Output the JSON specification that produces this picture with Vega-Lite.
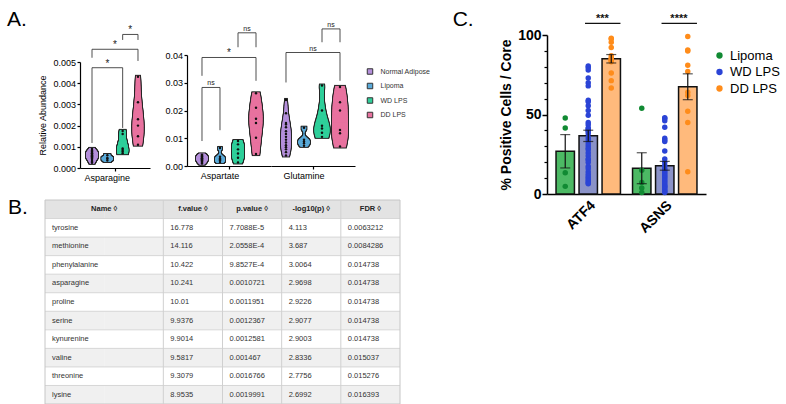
{
"$schema": "https://vega.github.io/schema/vega-lite/v6.json",
"padding": {"left": 7, "top": 8, "right": 2, "bottom": 0},
"config": {
  "view": {"stroke": null},
  "font": "Liberation Sans",
  "axis": {"grid": false, "labelFont": "Liberation Sans", "titleFont": "Liberation Sans", "domainColor": "#000", "tickColor": "#000", "labelColor": "#000", "titleColor": "#000"},
  "legend": {"labelFont": "Liberation Sans"},
  "text": {"font": "Liberation Sans"},
  "title": {"font": "Liberation Sans", "color": "#000"}
},
"datasets": {
  "abund": [
    {"metab":"Asparagine","group":"Normal Adipose","v":0.00025},{"metab":"Asparagine","group":"Normal Adipose","v":0.0003},{"metab":"Asparagine","group":"Normal Adipose","v":0.00038},{"metab":"Asparagine","group":"Normal Adipose","v":0.00045},{"metab":"Asparagine","group":"Normal Adipose","v":0.0005},{"metab":"Asparagine","group":"Normal Adipose","v":0.00052},{"metab":"Asparagine","group":"Normal Adipose","v":0.00056},{"metab":"Asparagine","group":"Normal Adipose","v":0.0006},{"metab":"Asparagine","group":"Normal Adipose","v":0.00062},{"metab":"Asparagine","group":"Normal Adipose","v":0.00066},{"metab":"Asparagine","group":"Normal Adipose","v":0.0007},{"metab":"Asparagine","group":"Normal Adipose","v":0.00072},{"metab":"Asparagine","group":"Normal Adipose","v":0.00078},{"metab":"Asparagine","group":"Normal Adipose","v":0.00083},{"metab":"Asparagine","group":"Normal Adipose","v":0.0009},
    {"metab":"Asparagine","group":"Lipoma","v":0.00035},{"metab":"Asparagine","group":"Lipoma","v":0.00044},{"metab":"Asparagine","group":"Lipoma","v":0.00047},{"metab":"Asparagine","group":"Lipoma","v":0.0006},
    {"metab":"Asparagine","group":"WD LPS","v":0.0007},{"metab":"Asparagine","group":"WD LPS","v":0.00078},{"metab":"Asparagine","group":"WD LPS","v":0.00085},{"metab":"Asparagine","group":"WD LPS","v":0.00092},{"metab":"Asparagine","group":"WD LPS","v":0.0016},{"metab":"Asparagine","group":"WD LPS","v":0.00175},
    {"metab":"Asparagine","group":"DD LPS","v":0.0011},{"metab":"Asparagine","group":"DD LPS","v":0.0015},{"metab":"Asparagine","group":"DD LPS","v":0.002},{"metab":"Asparagine","group":"DD LPS","v":0.0023},{"metab":"Asparagine","group":"DD LPS","v":0.0031},{"metab":"Asparagine","group":"DD LPS","v":0.0043},
    {"metab":"Aspartate","group":"Normal Adipose","v":0.0009},{"metab":"Aspartate","group":"Normal Adipose","v":0.0012},{"metab":"Aspartate","group":"Normal Adipose","v":0.0015},{"metab":"Aspartate","group":"Normal Adipose","v":0.0018},{"metab":"Aspartate","group":"Normal Adipose","v":0.002},{"metab":"Aspartate","group":"Normal Adipose","v":0.0022},{"metab":"Aspartate","group":"Normal Adipose","v":0.0024},{"metab":"Aspartate","group":"Normal Adipose","v":0.0026},{"metab":"Aspartate","group":"Normal Adipose","v":0.0028},{"metab":"Aspartate","group":"Normal Adipose","v":0.003},{"metab":"Aspartate","group":"Normal Adipose","v":0.0032},{"metab":"Aspartate","group":"Normal Adipose","v":0.0034},{"metab":"Aspartate","group":"Normal Adipose","v":0.0036},{"metab":"Aspartate","group":"Normal Adipose","v":0.0038},{"metab":"Aspartate","group":"Normal Adipose","v":0.0041},
    {"metab":"Aspartate","group":"Lipoma","v":0.0014},{"metab":"Aspartate","group":"Lipoma","v":0.002},{"metab":"Aspartate","group":"Lipoma","v":0.0023},{"metab":"Aspartate","group":"Lipoma","v":0.0027},{"metab":"Aspartate","group":"Lipoma","v":0.0033},{"metab":"Aspartate","group":"Lipoma","v":0.0065},
    {"metab":"Aspartate","group":"WD LPS","v":0.0013},{"metab":"Aspartate","group":"WD LPS","v":0.003},{"metab":"Aspartate","group":"WD LPS","v":0.0045},{"metab":"Aspartate","group":"WD LPS","v":0.006},{"metab":"Aspartate","group":"WD LPS","v":0.0078},{"metab":"Aspartate","group":"WD LPS","v":0.009},
    {"metab":"Aspartate","group":"DD LPS","v":0.0043},{"metab":"Aspartate","group":"DD LPS","v":0.0102},{"metab":"Aspartate","group":"DD LPS","v":0.0155},{"metab":"Aspartate","group":"DD LPS","v":0.017},{"metab":"Aspartate","group":"DD LPS","v":0.021},{"metab":"Aspartate","group":"DD LPS","v":0.0262},
    {"metab":"Glutamine","group":"Normal Adipose","v":0.0038},{"metab":"Glutamine","group":"Normal Adipose","v":0.005},{"metab":"Glutamine","group":"Normal Adipose","v":0.006},{"metab":"Glutamine","group":"Normal Adipose","v":0.0068},{"metab":"Glutamine","group":"Normal Adipose","v":0.0075},{"metab":"Glutamine","group":"Normal Adipose","v":0.0085},{"metab":"Glutamine","group":"Normal Adipose","v":0.0095},{"metab":"Glutamine","group":"Normal Adipose","v":0.0105},{"metab":"Glutamine","group":"Normal Adipose","v":0.0115},{"metab":"Glutamine","group":"Normal Adipose","v":0.0125},{"metab":"Glutamine","group":"Normal Adipose","v":0.014},{"metab":"Glutamine","group":"Normal Adipose","v":0.015},{"metab":"Glutamine","group":"Normal Adipose","v":0.0155},{"metab":"Glutamine","group":"Normal Adipose","v":0.019},{"metab":"Glutamine","group":"Normal Adipose","v":0.0238},
    {"metab":"Glutamine","group":"Lipoma","v":0.0073},{"metab":"Glutamine","group":"Lipoma","v":0.0082},{"metab":"Glutamine","group":"Lipoma","v":0.0088},{"metab":"Glutamine","group":"Lipoma","v":0.0095},{"metab":"Glutamine","group":"Lipoma","v":0.0138},
    {"metab":"Glutamine","group":"WD LPS","v":0.0105},{"metab":"Glutamine","group":"WD LPS","v":0.012},{"metab":"Glutamine","group":"WD LPS","v":0.0135},{"metab":"Glutamine","group":"WD LPS","v":0.0145},{"metab":"Glutamine","group":"WD LPS","v":0.02},{"metab":"Glutamine","group":"WD LPS","v":0.029},
    {"metab":"Glutamine","group":"DD LPS","v":0.007},{"metab":"Glutamine","group":"DD LPS","v":0.0118},{"metab":"Glutamine","group":"DD LPS","v":0.013},{"metab":"Glutamine","group":"DD LPS","v":0.02},{"metab":"Glutamine","group":"DD LPS","v":0.023},{"metab":"Glutamine","group":"DD LPS","v":0.0285}
  ],
  "brk": [
    {"metab":"Asparagine","from":"Normal Adipose","to":"WD LPS","mid":"Lipoma","v":0.00473,"lo":0.00118,"ro":0.00189,"label":"*"},
    {"metab":"Asparagine","from":"Normal Adipose","to":"DD LPS","mid":"Lipoma","v":0.0056,"lo":0.0052,"ro":0.00505,"label":"*"},
    {"metab":"Asparagine","from":"WD LPS","to":"DD LPS","mid":"WD LPS","v":0.0063,"lo":0.00604,"ro":0.00604,"label":"*"},
    {"metab":"Aspartate","from":"Normal Adipose","to":"Lipoma","mid":"Normal Adipose","v":0.0283,"lo":0.009,"ro":0.0129,"label":"ns"},
    {"metab":"Aspartate","from":"Normal Adipose","to":"DD LPS","mid":"Lipoma","v":0.0391,"lo":0.0325,"ro":0.0307,"label":"*"},
    {"metab":"Aspartate","from":"WD LPS","to":"DD LPS","mid":"WD LPS","v":0.048,"lo":0.0428,"ro":0.0428,"label":"ns"},
    {"metab":"Glutamine","from":"Normal Adipose","to":"DD LPS","mid":"Lipoma","v":0.0409,"lo":0.0301,"ro":0.0307,"label":"ns"},
    {"metab":"Glutamine","from":"WD LPS","to":"DD LPS","mid":"WD LPS","v":0.0494,"lo":0.0446,"ro":0.0446,"label":"ns"}
  ],
  "ihc": [
    {"gene":"ATF4","cohort":"Lipoma","value":47.8},{"gene":"ATF4","cohort":"Lipoma","value":41.5},{"gene":"ATF4","cohort":"Lipoma","value":13.4},{"gene":"ATF4","cohort":"Lipoma","value":4.8},
    {"gene":"ATF4","cohort":"WD LPS","value":80.5},{"gene":"ATF4","cohort":"WD LPS","value":79.5},{"gene":"ATF4","cohort":"WD LPS","value":78},{"gene":"ATF4","cohort":"WD LPS","value":73},{"gene":"ATF4","cohort":"WD LPS","value":70},{"gene":"ATF4","cohort":"WD LPS","value":68},{"gene":"ATF4","cohort":"WD LPS","value":59},{"gene":"ATF4","cohort":"WD LPS","value":58},{"gene":"ATF4","cohort":"WD LPS","value":55.5},{"gene":"ATF4","cohort":"WD LPS","value":52.5},{"gene":"ATF4","cohort":"WD LPS","value":49.5},{"gene":"ATF4","cohort":"WD LPS","value":45},{"gene":"ATF4","cohort":"WD LPS","value":43.5},{"gene":"ATF4","cohort":"WD LPS","value":41.5},{"gene":"ATF4","cohort":"WD LPS","value":41},{"gene":"ATF4","cohort":"WD LPS","value":40},{"gene":"ATF4","cohort":"WD LPS","value":39.5},{"gene":"ATF4","cohort":"WD LPS","value":38},{"gene":"ATF4","cohort":"WD LPS","value":35.5},{"gene":"ATF4","cohort":"WD LPS","value":34},{"gene":"ATF4","cohort":"WD LPS","value":32},{"gene":"ATF4","cohort":"WD LPS","value":30.5},{"gene":"ATF4","cohort":"WD LPS","value":29},{"gene":"ATF4","cohort":"WD LPS","value":28},{"gene":"ATF4","cohort":"WD LPS","value":26},{"gene":"ATF4","cohort":"WD LPS","value":24},{"gene":"ATF4","cohort":"WD LPS","value":22},{"gene":"ATF4","cohort":"WD LPS","value":21.5},{"gene":"ATF4","cohort":"WD LPS","value":20},{"gene":"ATF4","cohort":"WD LPS","value":17.5},{"gene":"ATF4","cohort":"WD LPS","value":16},{"gene":"ATF4","cohort":"WD LPS","value":14},{"gene":"ATF4","cohort":"WD LPS","value":12.5},{"gene":"ATF4","cohort":"WD LPS","value":11},{"gene":"ATF4","cohort":"WD LPS","value":10},{"gene":"ATF4","cohort":"WD LPS","value":9},{"gene":"ATF4","cohort":"WD LPS","value":8},{"gene":"ATF4","cohort":"WD LPS","value":7},{"gene":"ATF4","cohort":"WD LPS","value":6.5},
    {"gene":"ATF4","cohort":"DD LPS","value":97.9},{"gene":"ATF4","cohort":"DD LPS","value":97.5},{"gene":"ATF4","cohort":"DD LPS","value":95.4},{"gene":"ATF4","cohort":"DD LPS","value":92.2},{"gene":"ATF4","cohort":"DD LPS","value":87},{"gene":"ATF4","cohort":"DD LPS","value":85.5},{"gene":"ATF4","cohort":"DD LPS","value":84.9},{"gene":"ATF4","cohort":"DD LPS","value":84.2},{"gene":"ATF4","cohort":"DD LPS","value":83.8},{"gene":"ATF4","cohort":"DD LPS","value":83.2},{"gene":"ATF4","cohort":"DD LPS","value":76.1},{"gene":"ATF4","cohort":"DD LPS","value":71.3},{"gene":"ATF4","cohort":"DD LPS","value":66.7},
    {"gene":"ASNS","cohort":"Lipoma","value":54},{"gene":"ASNS","cohort":"Lipoma","value":15},{"gene":"ASNS","cohort":"Lipoma","value":7.3},{"gene":"ASNS","cohort":"Lipoma","value":3.8},{"gene":"ASNS","cohort":"Lipoma","value":1},
    {"gene":"ASNS","cohort":"WD LPS","value":48},{"gene":"ASNS","cohort":"WD LPS","value":47.5},{"gene":"ASNS","cohort":"WD LPS","value":46},{"gene":"ASNS","cohort":"WD LPS","value":42},{"gene":"ASNS","cohort":"WD LPS","value":35},{"gene":"ASNS","cohort":"WD LPS","value":34},{"gene":"ASNS","cohort":"WD LPS","value":33},{"gene":"ASNS","cohort":"WD LPS","value":27},{"gene":"ASNS","cohort":"WD LPS","value":22},{"gene":"ASNS","cohort":"WD LPS","value":20},{"gene":"ASNS","cohort":"WD LPS","value":18},{"gene":"ASNS","cohort":"WD LPS","value":16},{"gene":"ASNS","cohort":"WD LPS","value":15},{"gene":"ASNS","cohort":"WD LPS","value":14},{"gene":"ASNS","cohort":"WD LPS","value":13},{"gene":"ASNS","cohort":"WD LPS","value":12},{"gene":"ASNS","cohort":"WD LPS","value":11},{"gene":"ASNS","cohort":"WD LPS","value":10},{"gene":"ASNS","cohort":"WD LPS","value":9},{"gene":"ASNS","cohort":"WD LPS","value":8},{"gene":"ASNS","cohort":"WD LPS","value":7},{"gene":"ASNS","cohort":"WD LPS","value":6},{"gene":"ASNS","cohort":"WD LPS","value":5},{"gene":"ASNS","cohort":"WD LPS","value":4.5},{"gene":"ASNS","cohort":"WD LPS","value":4},{"gene":"ASNS","cohort":"WD LPS","value":3},{"gene":"ASNS","cohort":"WD LPS","value":2},{"gene":"ASNS","cohort":"WD LPS","value":1.5},{"gene":"ASNS","cohort":"WD LPS","value":1},
    {"gene":"ASNS","cohort":"DD LPS","value":99},{"gene":"ASNS","cohort":"DD LPS","value":90.5},{"gene":"ASNS","cohort":"DD LPS","value":90},{"gene":"ASNS","cohort":"DD LPS","value":81},{"gene":"ASNS","cohort":"DD LPS","value":77},{"gene":"ASNS","cohort":"DD LPS","value":64},{"gene":"ASNS","cohort":"DD LPS","value":62},{"gene":"ASNS","cohort":"DD LPS","value":52},{"gene":"ASNS","cohort":"DD LPS","value":45},{"gene":"ASNS","cohort":"DD LPS","value":14}
  ],
  "sig": [
    {"gene":"ATF4","level":107.3,"label":"***"},
    {"gene":"ASNS","level":107.3,"label":"****"}
  ],
  "tbl": [
    {"row":0,"Name":"Name ◊","fvalue":"f.value ◊","pvalue":"p.value ◊","log10p":"-log10(p) ◊","FDR":"FDR ◊"},
    {"row":1,"Name":"tyrosine","fvalue":"16.778","pvalue":"7.7088E-5","log10p":"4.113","FDR":"0.0063212"},
    {"row":2,"Name":"methionine","fvalue":"14.116","pvalue":"2.0558E-4","log10p":"3.687","FDR":"0.0084286"},
    {"row":3,"Name":"phenylalanine","fvalue":"10.422","pvalue":"9.8527E-4","log10p":"3.0064","FDR":"0.014738"},
    {"row":4,"Name":"asparagine","fvalue":"10.241","pvalue":"0.0010721","log10p":"2.9698","FDR":"0.014738"},
    {"row":5,"Name":"proline","fvalue":"10.01","pvalue":"0.0011951","log10p":"2.9226","FDR":"0.014738"},
    {"row":6,"Name":"serine","fvalue":"9.9376","pvalue":"0.0012367","log10p":"2.9077","FDR":"0.014738"},
    {"row":7,"Name":"kynurenine","fvalue":"9.9014","pvalue":"0.0012581","log10p":"2.9003","FDR":"0.014738"},
    {"row":8,"Name":"valine","fvalue":"9.5817","pvalue":"0.001467","log10p":"2.8336","FDR":"0.015037"},
    {"row":9,"Name":"threonine","fvalue":"9.3079","pvalue":"0.0016766","log10p":"2.7756","FDR":"0.015276"},
    {"row":10,"Name":"lysine","fvalue":"8.9535","pvalue":"0.0019991","log10p":"2.6992","FDR":"0.016393"}
  ]
},
"bounds": "flush",
"align": "each",
"columns": 4,
"spacing": {"row": 6, "column": 0},
"resolve": {"scale": {"color": "independent", "fill": "independent", "size": "independent"}},
"concat": [
    {
      "width": 142, "height": 133,
      "title": {"text": "A.", "anchor": "start", "frame": "group", "dx": -38, "dy": 21.5, "offset": 0, "baseline": "alphabetic", "fontSize": 21, "fontWeight": "normal"},
      "encoding": {
        "x": {"field": "group", "type": "nominal", "title": null, "scale": {"domain": ["Normal Adipose","Lipoma","WD LPS","DD LPS"], "range": [35, 105], "paddingInner": 0, "paddingOuter": 0.284}, "axis": {"values": ["Lipoma"], "bandPosition": 1, "labelExpr": "'Asparagine'", "labelAngle": 0, "tickSize": 3, "tickWidth": 1.2, "domainWidth": 1.2, "labelFontSize": 9, "labelPadding": 2}},
        "y": {"field": "v", "type": "quantitative", "title": "Relative Abundance", "scale": {"domain": [0, 0.005], "range": [133, 27], "nice": false}, "axis": {"values": [0, 0.001, 0.002, 0.003, 0.004, 0.005], "format": ".3f", "offset": -35, "tickSize": 3, "tickWidth": 1.2, "domainWidth": 1.2, "labelFontSize": 9, "labelPadding": 1.5, "titleFontSize": 9, "titleFontWeight": "normal", "titlePadding": 5}}
      },
      "resolve": {"scale": {"size": "independent"}},
      "layer": [
        {"data": {"name": "abund"}, "transform": [{"filter": "datum.metab === 'Asparagine' && datum.group === 'Normal Adipose'"}, {"density": "v", "groupby": ["group"], "steps": 80, "as": ["v", "density"]}],
         "encoding": {"size": {"field": "density", "type": "quantitative", "scale": {"zero": true, "range": [0, 12]}, "legend": null}},
         "layer": [{"mark": {"type": "tick", "thickness": 2, "color": "#262626", "stroke": "#262626", "strokeWidth": 2, "opacity": 1}},
                   {"mark": {"type": "tick", "thickness": 2, "opacity": 1}, "encoding": {"color": {"field": "group", "type": "nominal", "scale": {"domain": ["Normal Adipose","Lipoma","WD LPS","DD LPS"], "range": ["#b48fdb","#5aaad9","#2fcf9a","#e8729f"]}, "legend": null}}}]},
        {"data": {"name": "abund"}, "transform": [{"filter": "datum.metab === 'Asparagine' && datum.group === 'Lipoma'"}, {"density": "v", "groupby": ["group"], "steps": 80, "as": ["v", "density"]}],
         "encoding": {"size": {"field": "density", "type": "quantitative", "scale": {"zero": true, "range": [0, 11]}, "legend": null}},
         "layer": [{"mark": {"type": "tick", "thickness": 2, "color": "#262626", "stroke": "#262626", "strokeWidth": 2, "opacity": 1}},
                   {"mark": {"type": "tick", "thickness": 2, "opacity": 1}, "encoding": {"color": {"field": "group", "type": "nominal", "scale": {"domain": ["Normal Adipose","Lipoma","WD LPS","DD LPS"], "range": ["#b48fdb","#5aaad9","#2fcf9a","#e8729f"]}, "legend": null}}}]},
        {"data": {"name": "abund"}, "transform": [{"filter": "datum.metab === 'Asparagine' && datum.group === 'WD LPS'"}, {"density": "v", "groupby": ["group"], "steps": 80, "as": ["v", "density"]}],
         "encoding": {"size": {"field": "density", "type": "quantitative", "scale": {"zero": true, "range": [0, 11]}, "legend": null}},
         "layer": [{"mark": {"type": "tick", "thickness": 2, "color": "#262626", "stroke": "#262626", "strokeWidth": 2, "opacity": 1}},
                   {"mark": {"type": "tick", "thickness": 2, "opacity": 1}, "encoding": {"color": {"field": "group", "type": "nominal", "scale": {"domain": ["Normal Adipose","Lipoma","WD LPS","DD LPS"], "range": ["#b48fdb","#5aaad9","#2fcf9a","#e8729f"]}, "legend": null}}}]},
        {"data": {"name": "abund"}, "transform": [{"filter": "datum.metab === 'Asparagine' && datum.group === 'DD LPS'"}, {"density": "v", "groupby": ["group"], "steps": 80, "as": ["v", "density"]}],
         "encoding": {"size": {"field": "density", "type": "quantitative", "scale": {"zero": true, "range": [0, 11]}, "legend": null}},
         "layer": [{"mark": {"type": "tick", "thickness": 2, "color": "#262626", "stroke": "#262626", "strokeWidth": 2, "opacity": 1}},
                   {"mark": {"type": "tick", "thickness": 2, "opacity": 1}, "encoding": {"color": {"field": "group", "type": "nominal", "scale": {"domain": ["Normal Adipose","Lipoma","WD LPS","DD LPS"], "range": ["#b48fdb","#5aaad9","#2fcf9a","#e8729f"]}, "legend": null}}}]},
        {"data": {"name": "abund"}, "transform": [{"filter": "datum.metab === 'Asparagine'"}], "mark": {"type": "circle", "size": 6, "color": "#111", "opacity": 1}},
        {"data": {"name": "brk"}, "transform": [{"filter": "datum.metab === 'Asparagine'"}], "mark": {"type": "rule", "color": "#3a3a3a", "strokeWidth": 0.9},
         "encoding": {"x": {"field": "from", "type": "nominal", "title": null, "bandPosition": 0.5}, "x2": {"field": "to", "bandPosition": 0.5}}},
        {"data": {"name": "brk"}, "transform": [{"filter": "datum.metab === 'Asparagine'"}], "mark": {"type": "rule", "color": "#3a3a3a", "strokeWidth": 0.9},
         "encoding": {"x": {"field": "from", "type": "nominal", "title": null, "bandPosition": 0.5}, "y2": {"field": "lo"}}},
        {"data": {"name": "brk"}, "transform": [{"filter": "datum.metab === 'Asparagine'"}], "mark": {"type": "rule", "color": "#3a3a3a", "strokeWidth": 0.9},
         "encoding": {"x": {"field": "to", "type": "nominal", "title": null, "bandPosition": 0.5}, "y2": {"field": "ro"}}},
        {"data": {"name": "brk"}, "transform": [{"filter": "datum.metab === 'Asparagine' && (indexof(['Normal Adipose','Lipoma','WD LPS','DD LPS'], datum.to) - indexof(['Normal Adipose','Lipoma','WD LPS','DD LPS'], datum.from)) % 2 === 0"}],
         "mark": {"type": "text", "baseline": "middle", "dy": -4, "color": "#222"},
         "encoding": {"x": {"field": "mid", "type": "nominal", "title": null, "bandPosition": 0.5}, "text": {"field": "label"}, "size": {"condition": {"test": "datum.label === 'ns'", "value": 7}, "value": 10}}},
        {"data": {"name": "brk"}, "transform": [{"filter": "datum.metab === 'Asparagine' && (indexof(['Normal Adipose','Lipoma','WD LPS','DD LPS'], datum.to) - indexof(['Normal Adipose','Lipoma','WD LPS','DD LPS'], datum.from)) % 2 !== 0"}],
         "mark": {"type": "text", "baseline": "middle", "dy": -4, "color": "#222"},
         "encoding": {"x": {"field": "mid", "type": "nominal", "title": null, "bandPosition": 1}, "text": {"field": "label"}, "size": {"condition": {"test": "datum.label === 'ns'", "value": 7}, "value": 10}}}
      ]
    },
    {
        "width": 84, "height": 131,
        "encoding": {
          "x": {"field": "group", "type": "nominal", "title": null, "scale": {"domain": ["Normal Adipose","Lipoma","WD LPS","DD LPS"], "paddingInner": 0, "paddingOuter": 0.333}, "axis": {"values": ["Lipoma"], "bandPosition": 1, "labelExpr": "'Aspartate'", "labelAngle": 0, "tickSize": 3, "tickWidth": 1.2, "domainWidth": 1.2, "labelFontSize": 9, "labelPadding": 2}},
          "y": {"field": "v", "type": "quantitative", "title": null, "scale": {"domain": [0, 0.04], "range": [131, 20], "nice": false}, "axis": {"values": [0, 0.01, 0.02, 0.03, 0.04], "format": ".2f", "tickSize": 3, "tickWidth": 1.2, "domainWidth": 1.2, "labelFontSize": 9, "labelPadding": 1.5}}
        },
        "resolve": {"scale": {"size": "independent"}},
        "layer": [
          {"data": {"name": "abund"}, "transform": [{"filter": "datum.metab === 'Aspartate' && datum.group === 'Normal Adipose'"}, {"density": "v", "groupby": ["group"], "steps": 80, "as": ["v", "density"]}],
           "encoding": {"size": {"field": "density", "type": "quantitative", "scale": {"zero": true, "range": [0, 11]}, "legend": null}},
           "layer": [{"mark": {"type": "tick", "thickness": 2, "color": "#262626", "stroke": "#262626", "strokeWidth": 2, "opacity": 1}},
                     {"mark": {"type": "tick", "thickness": 2, "opacity": 1}, "encoding": {"color": {"field": "group", "type": "nominal", "scale": {"domain": ["Normal Adipose","Lipoma","WD LPS","DD LPS"], "range": ["#b48fdb","#5aaad9","#2fcf9a","#e8729f"]}, "legend": null}}}]},
          {"data": {"name": "abund"}, "transform": [{"filter": "datum.metab === 'Aspartate' && datum.group === 'Lipoma'"}, {"density": "v", "groupby": ["group"], "steps": 80, "as": ["v", "density"]}],
           "encoding": {"size": {"field": "density", "type": "quantitative", "scale": {"zero": true, "range": [0, 10]}, "legend": null}},
           "layer": [{"mark": {"type": "tick", "thickness": 2, "color": "#262626", "stroke": "#262626", "strokeWidth": 2, "opacity": 1}},
                     {"mark": {"type": "tick", "thickness": 2, "opacity": 1}, "encoding": {"color": {"field": "group", "type": "nominal", "scale": {"domain": ["Normal Adipose","Lipoma","WD LPS","DD LPS"], "range": ["#b48fdb","#5aaad9","#2fcf9a","#e8729f"]}, "legend": null}}}]},
          {"data": {"name": "abund"}, "transform": [{"filter": "datum.metab === 'Aspartate' && datum.group === 'WD LPS'"}, {"density": "v", "groupby": ["group"], "steps": 80, "as": ["v", "density"]}],
           "encoding": {"size": {"field": "density", "type": "quantitative", "scale": {"zero": true, "range": [0, 12]}, "legend": null}},
           "layer": [{"mark": {"type": "tick", "thickness": 2, "color": "#262626", "stroke": "#262626", "strokeWidth": 2, "opacity": 1}},
                     {"mark": {"type": "tick", "thickness": 2, "opacity": 1}, "encoding": {"color": {"field": "group", "type": "nominal", "scale": {"domain": ["Normal Adipose","Lipoma","WD LPS","DD LPS"], "range": ["#b48fdb","#5aaad9","#2fcf9a","#e8729f"]}, "legend": null}}}]},
          {"data": {"name": "abund"}, "transform": [{"filter": "datum.metab === 'Aspartate' && datum.group === 'DD LPS'"}, {"density": "v", "groupby": ["group"], "steps": 80, "as": ["v", "density"]}],
           "encoding": {"size": {"field": "density", "type": "quantitative", "scale": {"zero": true, "range": [0, 13]}, "legend": null}},
           "layer": [{"mark": {"type": "tick", "thickness": 2, "color": "#262626", "stroke": "#262626", "strokeWidth": 2, "opacity": 1}},
                     {"mark": {"type": "tick", "thickness": 2, "opacity": 1}, "encoding": {"color": {"field": "group", "type": "nominal", "scale": {"domain": ["Normal Adipose","Lipoma","WD LPS","DD LPS"], "range": ["#b48fdb","#5aaad9","#2fcf9a","#e8729f"]}, "legend": null}}}]},
          {"data": {"name": "abund"}, "transform": [{"filter": "datum.metab === 'Aspartate'"}], "mark": {"type": "circle", "size": 6, "color": "#111", "opacity": 1}},
          {"data": {"name": "brk"}, "transform": [{"filter": "datum.metab === 'Aspartate'"}], "mark": {"type": "rule", "color": "#3a3a3a", "strokeWidth": 0.9},
           "encoding": {"x": {"field": "from", "type": "nominal", "title": null, "bandPosition": 0.5}, "x2": {"field": "to", "bandPosition": 0.5}}},
          {"data": {"name": "brk"}, "transform": [{"filter": "datum.metab === 'Aspartate'"}], "mark": {"type": "rule", "color": "#3a3a3a", "strokeWidth": 0.9},
           "encoding": {"x": {"field": "from", "type": "nominal", "title": null, "bandPosition": 0.5}, "y2": {"field": "lo"}}},
          {"data": {"name": "brk"}, "transform": [{"filter": "datum.metab === 'Aspartate'"}], "mark": {"type": "rule", "color": "#3a3a3a", "strokeWidth": 0.9},
           "encoding": {"x": {"field": "to", "type": "nominal", "title": null, "bandPosition": 0.5}, "y2": {"field": "ro"}}},
          {"data": {"name": "brk"}, "transform": [{"filter": "datum.metab === 'Aspartate' && (indexof(['Normal Adipose','Lipoma','WD LPS','DD LPS'], datum.to) - indexof(['Normal Adipose','Lipoma','WD LPS','DD LPS'], datum.from)) % 2 !== 0"}],
           "mark": {"type": "text", "baseline": "middle", "dy": -4, "color": "#222"},
           "encoding": {"x": {"field": "mid", "type": "nominal", "title": null, "bandPosition": 1}, "text": {"field": "label"}, "size": {"condition": {"test": "datum.label === 'ns'", "value": 7}, "value": 10}}}
        ]
    },
    {
        "width": 276, "height": 131,
        "encoding": {
          "x": {"field": "group", "type": "nominal", "title": null, "scale": {"domain": ["Normal Adipose","Lipoma","WD LPS","DD LPS"], "range": [0, 84], "paddingInner": 0, "paddingOuter": 0.333}, "axis": {"values": ["Lipoma"], "bandPosition": 1, "labelExpr": "'Glutamine'", "labelAngle": 0, "tickSize": 3, "tickWidth": 1.2, "domainWidth": 1.2, "labelFontSize": 9, "labelPadding": 2}},
          "y": {"field": "v", "type": "quantitative", "title": null, "scale": {"domain": [0, 0.04], "range": [131, 20], "nice": false}, "axis": null}
        },
        "resolve": {"scale": {"size": "independent"}},
        "layer": [
          {"data": {"name": "abund"}, "transform": [{"filter": "datum.metab === 'Glutamine' && datum.group === 'Normal Adipose'"}, {"density": "v", "groupby": ["group"], "steps": 80, "as": ["v", "density"]}],
           "encoding": {"size": {"field": "density", "type": "quantitative", "scale": {"zero": true, "range": [0, 10]}, "legend": null}},
           "layer": [{"mark": {"type": "tick", "thickness": 2, "color": "#262626", "stroke": "#262626", "strokeWidth": 2, "opacity": 1}},
                     {"mark": {"type": "tick", "thickness": 2, "opacity": 1}, "encoding": {"color": {"field": "group", "type": "nominal", "scale": {"domain": ["Normal Adipose","Lipoma","WD LPS","DD LPS"], "range": ["#b48fdb","#5aaad9","#2fcf9a","#e8729f"]}, "legend": {"orient": "none", "legendX": 95.5, "legendY": 33, "title": null, "symbolType": "square", "symbolSize": 30, "symbolStrokeColor": "#333", "symbolStrokeWidth": 1, "symbolOpacity": 1, "labelFontSize": 7, "labelColor": "#333", "labelOffset": 7, "rowPadding": 3.5}}}}]},
          {"data": {"name": "abund"}, "transform": [{"filter": "datum.metab === 'Glutamine' && datum.group === 'Lipoma'"}, {"density": "v", "groupby": ["group"], "steps": 80, "as": ["v", "density"]}],
           "encoding": {"size": {"field": "density", "type": "quantitative", "scale": {"zero": true, "range": [0, 11]}, "legend": null}},
           "layer": [{"mark": {"type": "tick", "thickness": 2, "color": "#262626", "stroke": "#262626", "strokeWidth": 2, "opacity": 1}},
                     {"mark": {"type": "tick", "thickness": 2, "opacity": 1}, "encoding": {"color": {"field": "group", "type": "nominal", "scale": {"domain": ["Normal Adipose","Lipoma","WD LPS","DD LPS"], "range": ["#b48fdb","#5aaad9","#2fcf9a","#e8729f"]}, "legend": {"orient": "none", "legendX": 95.5, "legendY": 33, "title": null, "symbolType": "square", "symbolSize": 30, "symbolStrokeColor": "#333", "symbolStrokeWidth": 1, "symbolOpacity": 1, "labelFontSize": 7, "labelColor": "#333", "labelOffset": 7, "rowPadding": 3.5}}}}]},
          {"data": {"name": "abund"}, "transform": [{"filter": "datum.metab === 'Glutamine' && datum.group === 'WD LPS'"}, {"density": "v", "groupby": ["group"], "steps": 80, "as": ["v", "density"]}],
           "encoding": {"size": {"field": "density", "type": "quantitative", "scale": {"zero": true, "range": [0, 15]}, "legend": null}},
           "layer": [{"mark": {"type": "tick", "thickness": 2, "color": "#262626", "stroke": "#262626", "strokeWidth": 2, "opacity": 1}},
                     {"mark": {"type": "tick", "thickness": 2, "opacity": 1}, "encoding": {"color": {"field": "group", "type": "nominal", "scale": {"domain": ["Normal Adipose","Lipoma","WD LPS","DD LPS"], "range": ["#b48fdb","#5aaad9","#2fcf9a","#e8729f"]}, "legend": {"orient": "none", "legendX": 95.5, "legendY": 33, "title": null, "symbolType": "square", "symbolSize": 30, "symbolStrokeColor": "#333", "symbolStrokeWidth": 1, "symbolOpacity": 1, "labelFontSize": 7, "labelColor": "#333", "labelOffset": 7, "rowPadding": 3.5}}}}]},
          {"data": {"name": "abund"}, "transform": [{"filter": "datum.metab === 'Glutamine' && datum.group === 'DD LPS'"}, {"density": "v", "groupby": ["group"], "steps": 80, "as": ["v", "density"]}],
           "encoding": {"size": {"field": "density", "type": "quantitative", "scale": {"zero": true, "range": [0, 16]}, "legend": null}},
           "layer": [{"mark": {"type": "tick", "thickness": 2, "color": "#262626", "stroke": "#262626", "strokeWidth": 2, "opacity": 1}},
                     {"mark": {"type": "tick", "thickness": 2, "opacity": 1}, "encoding": {"color": {"field": "group", "type": "nominal", "scale": {"domain": ["Normal Adipose","Lipoma","WD LPS","DD LPS"], "range": ["#b48fdb","#5aaad9","#2fcf9a","#e8729f"]}, "legend": {"orient": "none", "legendX": 95.5, "legendY": 33, "title": null, "symbolType": "square", "symbolSize": 30, "symbolStrokeColor": "#333", "symbolStrokeWidth": 1, "symbolOpacity": 1, "labelFontSize": 7, "labelColor": "#333", "labelOffset": 7, "rowPadding": 3.5}}}}]},
          {"data": {"name": "abund"}, "transform": [{"filter": "datum.metab === 'Glutamine'"}], "mark": {"type": "circle", "size": 6, "color": "#111", "opacity": 1}},
          {"data": {"name": "brk"}, "transform": [{"filter": "datum.metab === 'Glutamine'"}], "mark": {"type": "rule", "color": "#3a3a3a", "strokeWidth": 0.9},
           "encoding": {"x": {"field": "from", "type": "nominal", "title": null, "bandPosition": 0.5}, "x2": {"field": "to", "bandPosition": 0.5}}},
          {"data": {"name": "brk"}, "transform": [{"filter": "datum.metab === 'Glutamine'"}], "mark": {"type": "rule", "color": "#3a3a3a", "strokeWidth": 0.9},
           "encoding": {"x": {"field": "from", "type": "nominal", "title": null, "bandPosition": 0.5}, "y2": {"field": "lo"}}},
          {"data": {"name": "brk"}, "transform": [{"filter": "datum.metab === 'Glutamine'"}], "mark": {"type": "rule", "color": "#3a3a3a", "strokeWidth": 0.9},
           "encoding": {"x": {"field": "to", "type": "nominal", "title": null, "bandPosition": 0.5}, "y2": {"field": "ro"}}},
          {"data": {"name": "brk"}, "transform": [{"filter": "datum.metab === 'Glutamine' && (indexof(['Normal Adipose','Lipoma','WD LPS','DD LPS'], datum.to) - indexof(['Normal Adipose','Lipoma','WD LPS','DD LPS'], datum.from)) % 2 !== 0"}],
           "mark": {"type": "text", "baseline": "middle", "dy": -4, "color": "#222"},
           "encoding": {"x": {"field": "mid", "type": "nominal", "title": null, "bandPosition": 1}, "text": {"field": "label"}, "size": {"condition": {"test": "datum.label === 'ns'", "value": 7}, "value": 10}}}
        ]
    },
  {
    "width": 159, "height": 159,
    "title": {"text": "C.", "anchor": "start", "frame": "group", "dx": -94.3, "dy": 33.7, "offset": 0, "baseline": "alphabetic", "fontSize": 21, "fontWeight": "normal"},
    "resolve": {"axis": {"y": "independent"}},
    "layer": [
      {"data": {"name": "ihc"}, "mark": {"type": "bar", "stroke": "#111", "strokeWidth": 1.5},
       "encoding": {
         "x": {"field": "gene", "type": "nominal", "title": null, "scale": {"domain": ["ATF4","ASNS"], "paddingInner": 0.158, "paddingOuter": 0.118}, "axis": {"labelAngle": -45, "labelFontSize": 14, "labelFontWeight": "bold", "ticks": false, "domainWidth": 1.5, "labelPadding": 4}},
         "xOffset": {"field": "cohort", "type": "nominal", "scale": {"domain": ["Lipoma","WD LPS","DD LPS"], "paddingInner": 0.2, "paddingOuter": 0}},
         "y": {"aggregate": "mean", "field": "value", "type": "quantitative", "title": "% Positive Cells / Core", "scale": {"domain": [0, 100], "nice": false}, "axis": {"values": [0, 50, 100], "labelFontSize": 14, "labelFontWeight": "bold", "titleFontSize": 14, "titleFontWeight": "bold", "tickSize": 5, "tickWidth": 1.5, "domainWidth": 1.5, "labelPadding": 1, "titlePadding": 4}},
         "fill": {"field": "cohort", "type": "nominal", "scale": {"domain": ["DD LPS","Lipoma","WD LPS"], "range": ["#ffba7c","#4cb964","#8a92c8"]}, "legend": null}
       }},
      {"data": {"name": "ihc"}, "mark": {"type": "circle", "size": 30, "opacity": 1},
       "encoding": {
         "x": {"field": "gene", "type": "nominal", "title": null},
         "xOffset": {"field": "cohort", "type": "nominal"},
         "y": {"field": "value", "type": "quantitative", "axis": {"orient": "left", "values": [10, 20, 30, 40, 60, 70, 80, 90], "labels": false, "domain": false, "title": null, "tickSize": 3, "tickWidth": 1.2}},
         "color": {"field": "cohort", "type": "nominal", "scale": {"domain": ["Lipoma","WD LPS","DD LPS"], "range": ["#118a33","#2b44d6","#ff8c1a"]}, "legend": {"orient": "none", "legendX": 166, "legendY": 14, "title": null, "symbolType": "circle", "symbolSize": 40, "symbolOpacity": 1, "labelFontSize": 13, "labelColor": "#000", "labelOffset": 4, "rowPadding": 2.5}}
       }},
      {"data": {"name": "ihc"}, "mark": {"type": "errorbar", "extent": "stderr", "color": "#111", "thickness": 1.2, "ticks": {"size": 10, "thickness": 1.2, "color": "#111"}},
       "encoding": {
         "x": {"field": "gene", "type": "nominal", "title": null},
         "xOffset": {"field": "cohort", "type": "nominal"},
         "y": {"field": "value", "type": "quantitative", "axis": null}
       }},
      {"data": {"name": "sig"}, "mark": {"type": "rule", "color": "#111", "strokeWidth": 1.2},
       "encoding": {
         "x": {"field": "gene", "type": "nominal", "title": null, "bandPosition": 0.45},
         "x2": {"field": "gene", "bandPosition": 1},
         "y": {"field": "level", "type": "quantitative", "axis": null}
       }},
      {"data": {"name": "sig"}, "mark": {"type": "text", "fontSize": 11, "fontWeight": "bold", "baseline": "alphabetic", "dy": -1, "color": "#111"},
       "encoding": {
         "x": {"field": "gene", "type": "nominal", "title": null, "bandPosition": 0.72},
         "y": {"field": "level", "type": "quantitative", "axis": null},
         "text": {"field": "label"}
       }}
    ]
  },
  {
  "width": 142, "height": 204,
  "title": {"text": "B.", "anchor": "start", "frame": "group", "dx": -37, "dy": 35, "offset": 0, "baseline": "alphabetic", "fontSize": 21, "fontWeight": "normal"},
  "layer": [
    {"data": {"name": "tbl"}, "transform": [{"fold": ["Name", "Name2", "fvalue", "pvalue", "log10p", "FDR"], "as": ["col", "text"]}], "mark": {"type": "rect"},
     "encoding": {
       "x": {"field": "col", "type": "nominal", "scale": {"domain": ["Name","Name2","fvalue","pvalue","log10p","FDR"], "range": [0, 355], "paddingInner": 0, "paddingOuter": 0}, "axis": null},
       "y": {"field": "row", "type": "ordinal", "scale": {"domain": [0,1,2,3,4,5,6,7,8,9,10], "paddingInner": 0, "paddingOuter": 0}, "axis": null},
       "color": {"condition": [{"test": "datum.row === 0", "value": "#e3e3e3"}, {"test": "datum.row % 2 === 0", "value": "#f0f0f0"}], "value": "#ffffff"}
     }},
    {"data": {"name": "tbl"}, "transform": [{"filter": "datum.row > 0"}], "mark": {"type": "rule", "color": "#d6d6d6", "strokeWidth": 1},
     "encoding": {
       "x": {"datum": "Name", "type": "nominal", "bandPosition": 0},
       "x2": {"datum": "FDR", "bandPosition": 1},
       "y": {"field": "row", "type": "ordinal", "bandPosition": 0}}},
    {"data": {"name": "tbl"}, "transform": [{"filter": "datum.row === 0"}], "mark": {"type": "rule", "color": "#c6c6c6", "strokeWidth": 1},
     "encoding": {
       "x": {"datum": "Name", "type": "nominal", "bandPosition": 0},
       "x2": {"datum": "FDR", "bandPosition": 1},
       "y": {"field": "row", "type": "ordinal", "bandPosition": 0}}},
    {"data": {"name": "tbl"}, "transform": [{"filter": "datum.row === 10"}], "mark": {"type": "rule", "color": "#c6c6c6", "strokeWidth": 1},
     "encoding": {
       "x": {"datum": "Name", "type": "nominal", "bandPosition": 0},
       "x2": {"datum": "FDR", "bandPosition": 1},
       "y": {"field": "row", "type": "ordinal", "bandPosition": 1}}},
    {"data": {"name": "tbl"}, "transform": [{"filter": "datum.row === 0"}], "mark": {"type": "rule", "color": "#c6c6c6", "strokeWidth": 1},
     "encoding": {"x": {"datum": "Name", "type": "nominal", "bandPosition": 0}}},
    {"data": {"name": "tbl"}, "transform": [{"filter": "datum.row === 0"}], "mark": {"type": "rule", "color": "#c6c6c6", "strokeWidth": 1},
     "encoding": {"x": {"datum": "FDR", "type": "nominal", "bandPosition": 1}}},
    {"data": {"values": [{"col": "fvalue"}, {"col": "pvalue"}, {"col": "log10p"}, {"col": "FDR"}]}, "mark": {"type": "rule", "color": "#d0d0d0", "strokeWidth": 1},
     "encoding": {"x": {"field": "col", "type": "nominal", "bandPosition": 0}}},
    {"data": {"name": "tbl"}, "transform": [{"filter": "datum.row > 0"}, {"fold": ["Name", "fvalue", "pvalue", "log10p", "FDR"], "as": ["col", "text"]}],
     "mark": {"type": "text", "align": "left", "baseline": "middle", "dx": 7, "fontSize": 7.5, "color": "#333"},
     "encoding": {
       "x": {"field": "col", "type": "nominal", "bandPosition": 0},
       "y": {"field": "row", "type": "ordinal"},
       "text": {"field": "text"}
     }},
    {"data": {"name": "tbl"}, "transform": [{"filter": "datum.row === 0"}, {"fold": ["Name"], "as": ["col", "text"]}],
     "mark": {"type": "text", "align": "center", "baseline": "middle", "fontSize": 7.5, "fontWeight": "bold", "color": "#222"},
     "encoding": {
       "x": {"field": "col", "type": "nominal", "bandPosition": 1},
       "y": {"field": "row", "type": "ordinal"},
       "text": {"field": "text"}
     }},
    {"data": {"name": "tbl"}, "transform": [{"filter": "datum.row === 0"}, {"fold": ["fvalue", "pvalue", "log10p", "FDR"], "as": ["col", "text"]}],
     "mark": {"type": "text", "align": "center", "baseline": "middle", "fontSize": 7.5, "fontWeight": "bold", "color": "#222"},
     "encoding": {
       "x": {"field": "col", "type": "nominal", "bandPosition": 0.5},
       "y": {"field": "row", "type": "ordinal"},
       "text": {"field": "text"}
     }}
  ]
  }
]
}
